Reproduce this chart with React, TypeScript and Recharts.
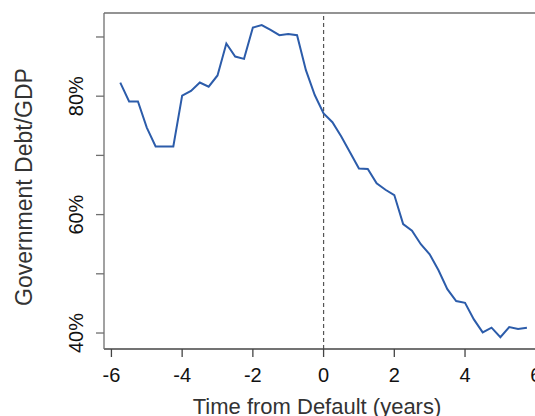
import { Line, LineChart, ReferenceLine, XAxis, YAxis } from 'recharts'

const quarters = [
  -5.75, -5.5, -5.25, -5, -4.75, -4.5, -4.25, -4, -3.75, -3.5, -3.25, -3, -2.75, -2.5, -2.25, -2, -1.75, -1.5,
  -1.25, -1, -0.75, -0.5, -0.25, 0, 0.25, 0.5, 0.75, 1, 1.25, 1.5, 1.75, 2, 2.25, 2.5, 2.75, 3, 3.25, 3.5, 3.75,
  4, 4.25, 4.5, 4.75, 5, 5.25, 5.5, 5.75,
]
const debtRatio = [
  82.3, 79.1, 79.1, 74.7, 71.5, 71.5, 71.5, 80.1, 80.9, 82.3, 81.6, 83.5, 88.9, 86.7, 86.3, 91.6, 92.0, 91.2,
  90.3, 90.5, 90.3, 84.4, 80.2, 77.1, 75.6, 73.2, 70.5, 67.8, 67.7, 65.3, 64.2, 63.3, 58.4, 57.3, 55.0, 53.3,
  50.6, 47.4, 45.4, 45.1, 42.3, 40.1, 40.9, 39.3, 41.0, 40.7, 40.9,
]
const xTicks = [-6, -4, -2, 0, 2, 4, 6]
const yTicks = [40, 50, 60, 70, 80, 90]
const yLabelled = [40, 60, 80]
const X_DOMAIN: [number, number] = [-6.21, 6.29]
const Y_DOMAIN: [number, number] = [37.3, 94.05]

const data = quarters.map((t, i) => ({ t, debt: debtRatio[i] }))

const FONT = '"Liberation Sans", Arial, sans-serif'
const AXIS = '#6f6f6f'

function YTick({ x, y, payload }: any) {
  if (!yLabelled.includes(payload.value)) return null
  return (
    <text
      transform={`translate(${x - 18},${y}) rotate(-90)`}
      textAnchor="middle"
      dy="0.35em"
      fontSize={20}
      fontFamily={FONT}
      fill="#111"
    >
      {payload.value}%
    </text>
  )
}

export default function App() {
  return (
    <div style={{ position: 'absolute', left: 0, top: 0, width: 535, height: 416, overflow: 'hidden', background: '#fff' }}>
      <LineChart width={560} height={416} data={data} margin={{ top: 13, right: 14, bottom: 0, left: 0 }}>
        <XAxis
          dataKey="t"
          type="number"
          domain={X_DOMAIN}
          ticks={xTicks}
          allowDataOverflow
          height={67}
          tickSize={8}
          tickMargin={11}
          axisLine={{ stroke: '#444', strokeWidth: 1.3 }}
          tickLine={{ stroke: '#444', strokeWidth: 1.3 }}
          tick={{ fill: '#111', fontSize: 20, fontFamily: FONT }}
        />
        <YAxis
          type="number"
          domain={Y_DOMAIN}
          ticks={yTicks}
          allowDataOverflow
          width={104}
          tickSize={8}
          axisLine={{ stroke: AXIS, strokeWidth: 1.3 }}
          tickLine={{ stroke: AXIS, strokeWidth: 1.3 }}
          tick={<YTick />}
        />
        <ReferenceLine y={Y_DOMAIN[1]} stroke={AXIS} strokeWidth={1.3} />
        <ReferenceLine x={0} stroke="#555" strokeDasharray="4 3" strokeWidth={1.2} />
        <Line
          dataKey="debt"
          type="linear"
          stroke="#2c5caa"
          strokeWidth={2}
          dot={false}
          isAnimationActive={false}
        />
        <text x={24} y={187} transform="rotate(-90 24 187)" textAnchor="middle" dy="0.35em" fontSize={23} fontFamily={FONT} fill="#333">
          Government Debt/GDP
        </text>
        <text x={317} y={398} textAnchor="middle" dy="0.71em" fontSize={22} fontFamily={FONT} fill="#333">
          Time from Default (years)
        </text>
      </LineChart>
    </div>
  )
}
